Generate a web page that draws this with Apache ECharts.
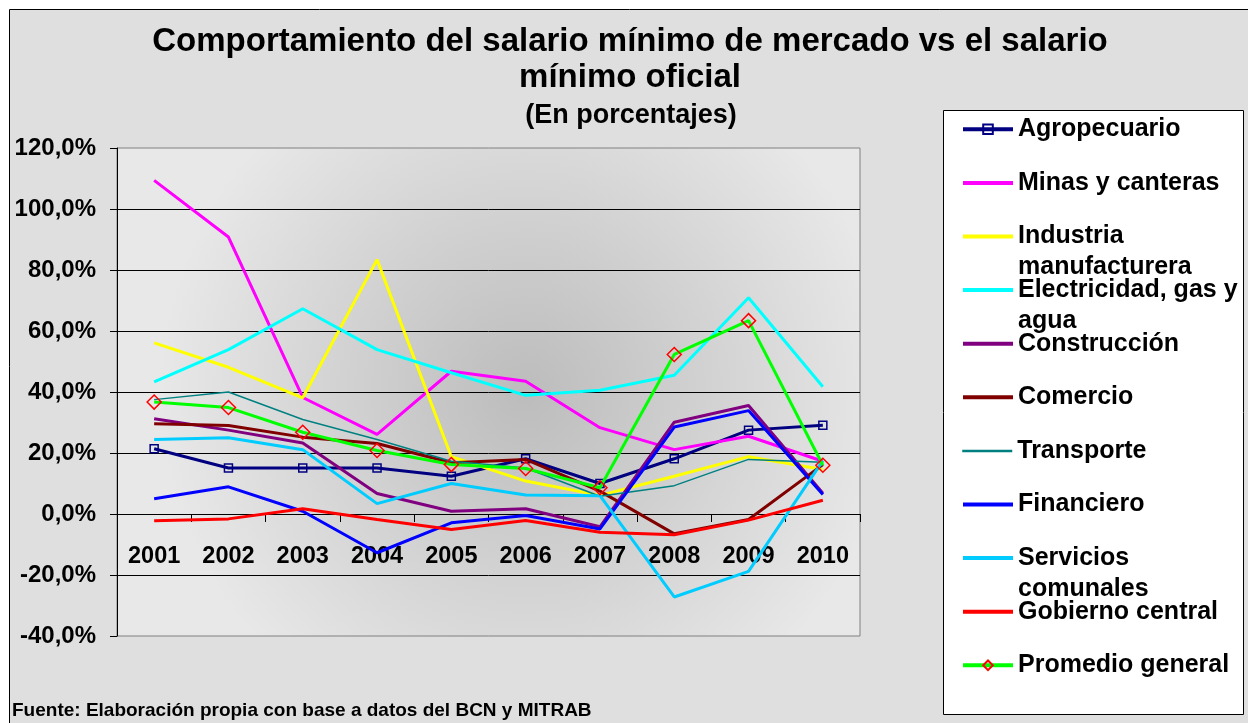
<!DOCTYPE html>
<html><head><meta charset="utf-8">
<script src="https://cdn.jsdelivr.net/npm/echarts@6/dist/echarts.min.js"></script>
<style>html,body{margin:0;padding:0;background:#fff}#c{width:1248px;height:723px}</style>
</head><body><div id="c"></div>
<script>
// ---- data ----
const years = ['2001','2002','2003','2004','2005','2006','2007','2008','2009','2010'];
const yTicks = [-40, -20, 0, 20, 40, 60, 80, 100, 120];
const seriesNames = ['Agropecuario','Minas y canteras','Industria manufacturera','Electricidad, gas y agua','Construcción','Comercio','Transporte','Financiero','Servicios comunales','Gobierno central','Promedio general'];
const legendLabels = ['Agropecuario','Minas y canteras','Industria\nmanufacturera','Electricidad, gas y\nagua','Construcción','Comercio','Transporte','Financiero','Servicios\ncomunales','Gobierno central','Promedio general'];
const agropecuario = [21.4, 15.1, 15.1, 15.1, 12.4, 18.1, 10.0, 18.1, 27.5, 29.1];
const minas        = [109.4, 90.8, 38.2, 26.1, 46.8, 43.5, 28.3, 21.1, 25.5, 17.3];
const industria    = [56.1, 48.1, 38.1, 83.4, 18.8, 10.8, 6.1, 12.4, 18.8, 14.6];
const electricidad = [43.3, 53.9, 67.3, 53.9, 46.3, 38.9, 40.6, 45.5, 70.9, 41.7];
const construccion = [31.2, 27.5, 23.3, 6.7, 0.9, 1.7, -4.2, 30.1, 35.6, 6.8];
const comercio     = [29.6, 29.0, 25.2, 23.1, 16.8, 17.9, 7.5, -6.5, -1.8, 16.2];
const transporte   = [37.5, 40.0, 31.0, 24.4, 17.3, 15.1, 5.8, 9.3, 17.9, 17.0];
const financiero   = [5.0, 8.9, 0.9, -12.7, -2.9, -0.5, -4.9, 28.5, 33.9, 6.4];
const servicios    = [24.4, 25.0, 21.1, 3.4, 10.0, 6.2, 6.0, -27.2, -18.8, 17.5];
const gobierno     = [-2.2, -1.6, 1.7, -1.8, -5.1, -2.1, -6.0, -6.8, -2.0, 4.5];
const promedio     = [36.7, 34.9, 26.8, 20.8, 16.2, 14.9, 8.6, 52.3, 63.4, 16.0];
const seriesData = [agropecuario, minas, industria, electricidad, construccion, comercio, transporte, financiero, servicios, gobierno, promedio];

// ---- styles ----
const FONT = '"Liberation Sans", Arial, sans-serif';
const styles = [
  {color:'#000080', width:3, symbol:'rect', size:8, marker:'#000080'},
  {color:'#FF00FF', width:3},
  {color:'#FFFF00', width:3},
  {color:'#00FFFF', width:3},
  {color:'#800080', width:3},
  {color:'#800000', width:3},
  {color:'#008080', width:1.5},
  {color:'#0000FF', width:3},
  {color:'#00CCFF', width:3},
  {color:'#FF0000', width:3},
  {color:'#00FF00', width:3, symbol:'diamond', size:14, marker:'#FF0000'}
];

const series = seriesNames.map((n, i) => {
  const s = styles[i];
  return {
    name: n, type: 'line', data: seriesData[i],
    symbol: s.symbol || 'none', symbolSize: s.size || 0, showSymbol: !!s.symbol,
    lineStyle: {color: s.color, width: s.width},
    itemStyle: s.symbol ? {color: 'rgba(0,0,0,0)', borderColor: s.marker, borderWidth: 1.5} : {color: s.color},
    emphasis: {disabled: true}, z: 2 + i
  };
});

const legendStart = 129.3, legendStep = 53.6;
const legends = seriesNames.map((n, i) => {
  const label = legendLabels[i];
  const two = label.indexOf('\n') >= 0;
  const c = legendStart + legendStep * i;
  const hasSym = !!styles[i].symbol;
  const lg = {
    data: [n], orient: 'vertical', left: 961, top: two ? c - 46.5 : c - 15, padding: 0,
    itemWidth: 50, itemHeight: 12, selectedMode: false,
    formatter: () => two ? ' \n' + label : label,
    lineStyle: {width: styles[i].width + 1},
    textStyle: {fontFamily: FONT, fontSize: 25, fontWeight: 'bold', color: '#000',
      lineHeight: two ? 31 : 30}
  };
  if (!hasSym) lg.itemStyle = {opacity: 0};
  return lg;
});

const chart = echarts.init(document.getElementById('c'));
chart.setOption({
  animation: false,
  backgroundColor: '#ffffff',
  title: [
    {text: 'Comportamiento del salario mínimo de mercado vs el salario\nmínimo oficial', left: 630, top: 24, textAlign: 'center', padding: 0,
     textStyle: {fontFamily: FONT, fontSize: 33, fontWeight: 'bold', color: '#000', lineHeight: 36}},
    {text: '(En porcentajes)', left: 631, top: 100, textAlign: 'center', padding: 0,
     textStyle: {fontFamily: FONT, fontSize: 27, fontWeight: 'bold', color: '#000', lineHeight: 32}}
  ],
  graphic: [
    {type: 'rect', z: -100, silent: true, shape: {x: 9.5, y: 9.5, width: 1260, height: 730},
     style: {fill: '#dfdfdf', stroke: '#000', lineWidth: 1}},
    {type: 'rect', z: 1, silent: true, shape: {x: 943.5, y: 110.5, width: 300, height: 604},
     style: {fill: '#fff', stroke: '#000', lineWidth: 1}},
    {type: 'text', z: 1, silent: true, x: 12, y: 711,
     style: {text: 'Fuente: Elaboración propia con base a datos del BCN y MITRAB', fontFamily: FONT, fontSize: 19, fontWeight: 'bold', fill: '#000', verticalAlign: 'middle'}}
  ],
  grid: {left: 117, right: 388, top: 148, bottom: 87, show: true, borderColor: '#808080', borderWidth: 1,
    backgroundColor: {type: 'radial', x: 0.55, y: 0.5, r: 0.75,
      colorStops: [{offset: 0, color: '#bcbcbc'}, {offset: 1, color: '#e8e8e8'}]}},
  legend: legends,
  xAxis: {
    type: 'category', data: years, boundaryGap: true, position: 'bottom', offset: 0,
    axisLine: {show: true, onZero: false, lineStyle: {color: '#000', width: 1}},
    axisTick: {show: true, alignWithLabel: false, length: 8, inside: false, lineStyle: {color: '#000'}},
    axisLabel: {interval: 0, margin: 31, fontFamily: FONT, fontSize: 23.5, fontWeight: 'bold', color: '#000'},
    splitLine: {show: false}
  },
  yAxis: {
    type: 'value', min: yTicks[0], max: yTicks[yTicks.length - 1], interval: 20,
    axisLine: {show: true, lineStyle: {color: '#000', width: 1}},
    axisTick: {show: true, length: 7, lineStyle: {color: '#000'}},
    axisLabel: {margin: 21, fontFamily: FONT, fontSize: 24, fontWeight: 'bold', color: '#000',
      formatter: v => v.toFixed(1).replace('.', ',') + '%'},
    splitLine: {show: true, showMinLine: false, showMaxLine: false, lineStyle: {color: '#000', width: 1}}
  },
  series: series
});
// move the category axis (line, ticks, labels) up to the zero value, using the library's own scale
const yZero = chart.convertToPixel({yAxisIndex: 0}, 0);
const yMin = chart.convertToPixel({yAxisIndex: 0}, yTicks[0]);
chart.setOption({xAxis: {offset: -(yMin - yZero)}});
</script></body></html>
